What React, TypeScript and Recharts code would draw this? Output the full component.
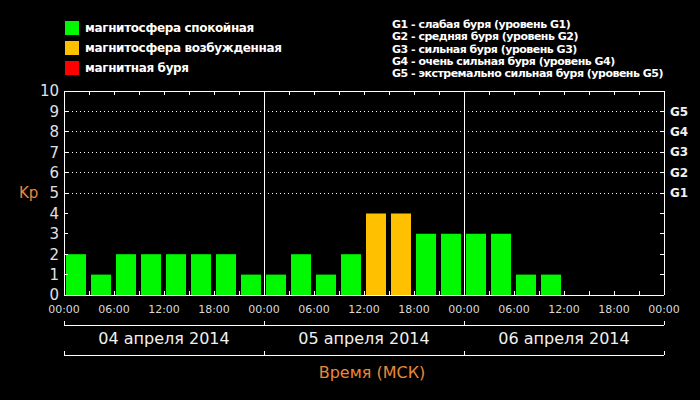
import React from "react";
import { BarChart, Bar, XAxis, YAxis, Cell, ReferenceLine } from "recharts";

// ---- data ----
const slotCenters = [1.5, 4.5, 7.5, 10.5, 13.5, 16.5, 19.5, 22.5, 25.5, 28.5, 31.5, 34.5, 37.5, 40.5, 43.5, 46.5, 49.5, 52.5, 55.5, 58.5, 61.5, 64.5, 67.5, 70.5];
const kpValues: (number | null)[] = [2, 1, 2, 2, 2, 2, 2, 1, 1, 2, 1, 2, 4, 4, 3, 3, 3, 3, 1, 1, null, null, null, null];

const timeTicks = [0, 6, 12, 18, 24, 30, 36, 42, 48, 54, 60, 66, 72];
const timeTickLabels = ["00:00", "06:00", "12:00", "18:00", "00:00", "06:00", "12:00", "18:00", "00:00", "06:00", "12:00", "18:00", "00:00"];
const minorTicks = [0, 3, 6, 9, 12, 15, 18, 21, 24, 27, 30, 33, 36, 39, 42, 45, 48, 51, 54, 57, 60, 63, 66, 69, 72];
const dayBoundaries = [0, 24, 48, 72];
const dayInnerBoundaries = [24, 48];
const dayCenters = [12, 36, 60];
const dayLabels = ["04 апреля 2014", "05 апреля 2014", "06 апреля 2014"];
const kpTicks = [0, 1, 2, 3, 4, 5, 6, 7, 8, 9, 10];
const stormLevels = [5, 6, 7, 8, 9];
const stormLabels = ["G1", "G2", "G3", "G4", "G5"];

const stateLegend = ["магнитосфера спокойная", "магнитосфера возбужденная", "магнитная буря"];
const stateColors = ["#00f800", "#ffc000", "#ff0000"];
const stormLegend = [
  "G1 - слабая буря (уровень G1)",
  "G2 - средняя буря (уровень G2)",
  "G3 - сильная буря (уровень G3)",
  "G4 - очень сильная буря (уровень G4)",
  "G5 - экстремально сильная буря (уровень G5)",
];

const data = slotCenters.map((t, i) => ({ t, kp: kpValues[i] }));

const colorFor = (v: number | null) => {
  if (v == null) return stateColors[0];
  if (v >= 5) return stateColors[2];
  if (v >= 4) return stateColors[1];
  return stateColors[0];
};

const FONT = "DejaVu Sans";
const ORANGE = "#e8893a";
const WHITE = "#ffffff";
const TICK_LEN = 4;

// draws a short tick mark starting at the axis-computed tick position
const tickMark = (dx: number, dy: number) => (props: any) => {
  const { x, y } = props;
  return (
    <line x1={x} y1={y} x2={x + dx} y2={y + dy} stroke={WHITE} strokeWidth={1} shapeRendering="crispEdges" />
  );
};

export default function App() {
  const axisCommon = {
    type: "number" as const,
    dataKey: "t",
    domain: [0, 72] as [number, number],
    allowDataOverflow: true,
  };
  const yCommon = {
    type: "number" as const,
    domain: [0, 10] as [number, number],
    allowDataOverflow: true,
  };
  const lineStyle = { stroke: WHITE, shapeRendering: "crispEdges" } as any;
  const markAxis = { interval: 0 as const, tickSize: 0, tickMargin: 0, tickLine: false };
  return (
    <div style={{ position: "absolute", left: 0, top: 0, width: 700, height: 400, background: "#000", overflow: "hidden" }}>
      <BarChart width={700} height={400} data={data} margin={{ top: 91, right: 0, bottom: 0, left: 0 }} barSize={20}>
        {/* top inner ticks + top border */}
        <XAxis {...axisCommon} {...markAxis} xAxisId="t1" orientation="top" height={1} mirror ticks={minorTicks} tick={tickMark(0, TICK_LEN)} axisLine={lineStyle} />
        {/* bottom inner ticks + bottom border */}
        <XAxis {...axisCommon} {...markAxis} xAxisId="b1minor" orientation="bottom" height={1} mirror ticks={minorTicks} tick={tickMark(0, -TICK_LEN)} axisLine={lineStyle} />
        {/* time labels */}
        <XAxis {...axisCommon} xAxisId="b2time" orientation="bottom" height={26} ticks={timeTicks} interval={0} tickSize={0} tickMargin={10} axisLine={false} tickLine={false}
          tickFormatter={(_v: number, i: number) => timeTickLabels[i]}
          tick={{ fill: "#d8d8d8", fontSize: 11, fontFamily: FONT }} />
        {/* upper bracket: end ticks, then line */}
        <XAxis {...axisCommon} {...markAxis} xAxisId="b3a" orientation="bottom" height={4} ticks={dayBoundaries} tick={tickMark(0, TICK_LEN)} axisLine={false} />
        <XAxis {...axisCommon} xAxisId="b3b" orientation="bottom" height={1} ticks={[]} tick={false} axisLine={lineStyle} tickLine={false} />
        {/* day labels */}
        <XAxis {...axisCommon} xAxisId="b4days" orientation="bottom" height={25} ticks={dayCenters} interval={0} tickSize={0} tickMargin={7} axisLine={false} tickLine={false}
          tickFormatter={(_v: number, i: number) => dayLabels[i]}
          tick={{ fill: "#f0f0f0", fontSize: 16, fontFamily: FONT }} />
        {/* lower bracket: end ticks, then line */}
        <XAxis {...axisCommon} {...markAxis} xAxisId="b5a" orientation="bottom" height={4} ticks={dayBoundaries} tick={tickMark(0, TICK_LEN)} axisLine={false} />
        <XAxis {...axisCommon} xAxisId="b5b" orientation="bottom" height={1} ticks={[]} tick={false} axisLine={lineStyle} tickLine={false} />
        {/* axis title */}
        <XAxis {...axisCommon} xAxisId="b6title" orientation="bottom" height={44} ticks={[]} tick={false} axisLine={false} tickLine={false}
          label={{ value: "Время (МСК)", position: "insideTop", offset: 11, dx: 8, fill: ORANGE, fontSize: 16, fontFamily: FONT }} />

        {/* left inner ticks + border */}
        <YAxis {...yCommon} {...markAxis} yAxisId="a1ticks" orientation="left" width={1} mirror ticks={kpTicks} tick={tickMark(TICK_LEN, 0)} axisLine={lineStyle} />
        <YAxis {...yCommon} yAxisId="a2kp" orientation="left" width={64} ticks={kpTicks} interval={0} tickSize={0} tickMargin={5} axisLine={false} tickLine={false}
          tick={{ fill: "#e0e0e0", fontSize: 15, fontFamily: FONT }}
          label={{ value: "Kp", position: "insideLeft", offset: 19, fill: ORANGE, fontSize: 15, fontFamily: FONT }} />
        {/* right inner ticks + border */}
        <YAxis {...yCommon} {...markAxis} yAxisId="r1ticks" orientation="right" width={1} mirror ticks={kpTicks} tick={tickMark(-TICK_LEN, 0)} axisLine={lineStyle} />
        <YAxis {...yCommon} yAxisId="r2storm" orientation="right" width={36} ticks={stormLevels} interval={0} tickSize={0} tickMargin={6} axisLine={false} tickLine={false}
          tickFormatter={(_v: number, i: number) => stormLabels[i]}
          tick={{ fill: "#f0f0f0", fontSize: 12, fontFamily: FONT, fontWeight: "bold" }} />

        {stormLevels.map((lv) => (
          <ReferenceLine key={"g" + lv} xAxisId="b2time" yAxisId="a2kp" y={lv} stroke={WHITE} strokeDasharray="1 3" shapeRendering="crispEdges" />
        ))}
        {dayInnerBoundaries.map((d) => (
          <ReferenceLine key={"d" + d} xAxisId="b2time" yAxisId="a2kp" x={d} stroke={WHITE} shapeRendering="crispEdges" />
        ))}

        <Bar dataKey="kp" xAxisId="b2time" yAxisId="a2kp" isAnimationActive={false}>
          {data.map((d, i) => (
            <Cell key={i} fill={colorFor(d.kp)} />
          ))}
        </Bar>
      </BarChart>

      {/* state legend */}
      <div style={{ position: "absolute", left: 65, top: 18, fontFamily: FONT, fontSize: 12, fontWeight: "bold", color: WHITE, letterSpacing: "-0.35px" }}>
        {stateLegend.map((s, i) => (
          <div key={s} style={{ display: "flex", alignItems: "center", height: 20 }}>
            <span style={{ display: "inline-block", width: 14, height: 14, background: stateColors[i], marginRight: 6 }} />
            <span>{s}</span>
          </div>
        ))}
      </div>

      {/* storm legend */}
      <div style={{ position: "absolute", left: 392, top: 19, fontFamily: FONT, fontSize: 11, fontWeight: "bold", color: WHITE, lineHeight: "12.3px", whiteSpace: "nowrap", letterSpacing: "-0.5px" }}>
        {stormLegend.map((s) => (
          <div key={s}>{s}</div>
        ))}
      </div>
    </div>
  );
}
